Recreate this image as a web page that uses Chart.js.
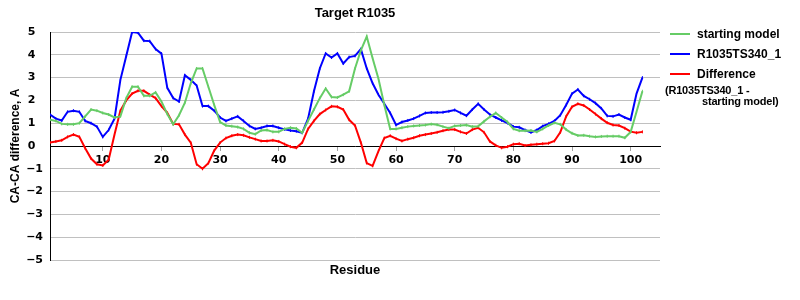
<!DOCTYPE html>
<html><head><meta charset="utf-8">
<script src="https://cdn.jsdelivr.net/npm/chart.js@4"></script>
<style>
html,body{margin:0;padding:0;background:#fff;}
#wrap{position:relative;width:800px;height:300px;}
canvas{display:block;}
#legend{position:absolute;left:670px;top:24px;font-family:"Liberation Sans",Arial,sans-serif;font-weight:bold;font-size:12px;color:#000;}
.item{position:relative;height:20px;display:flex;align-items:center;white-space:nowrap;}
.swatch{width:20px;height:2px;margin-right:7px;flex:none;}
.sub{position:absolute;left:665px;top:85px;font-family:"Liberation Sans",Arial,sans-serif;font-weight:bold;font-size:11px;line-height:11px;color:#000;white-space:nowrap;letter-spacing:-0.2px;}
.sub span{display:block;}
.sub span.l2{padding-left:37px;}
</style></head>
<body><div id="wrap"><canvas id="c" width="800" height="300"></canvas><div id="legend"></div><div class="sub" id="sub"></div></div>
<script>
const chartTitle = 'Target R1035';
const xTitle = 'Residue';
const yTitle = 'CA-CA difference, A';
const seriesNames = ['starting model', 'R1035TS340_1', 'Difference'];
const differenceNote = ['(R1035TS340_1 -', 'starting model)'];
const seriesColors = ['#66CC66', '#0000FF', '#FF0000'];
const xTicks = [10, 20, 30, 40, 50, 60, 70, 80, 90, 100];

const residues = [1,2,3,4,5,6,7,8,9,10,11,12,13,14,15,16,17,18,19,20,
21,22,23,24,25,26,27,28,29,30,31,32,33,34,35,36,37,38,39,40,
41,42,43,44,45,46,47,48,49,50,51,52,53,54,55,56,57,58,59,60,
61,62,63,64,65,66,67,68,69,70,71,72,73,74,75,76,77,78,79,80,
81,82,83,84,85,86,87,88,89,90,91,92,93,94,95,96,97,98,99,100,101,102];

const startingModel = [1.15,1.1,0.97,0.95,0.95,1.0,1.3,1.6,1.55,1.45,
1.38,1.25,1.3,2.1,2.6,2.6,2.2,2.2,2.35,1.95,
1.4,0.95,1.35,1.9,2.75,3.4,3.4,2.6,1.8,1.05,
0.9,0.87,0.83,0.75,0.58,0.52,0.68,0.7,0.62,0.62,
0.75,0.8,0.77,0.58,1.1,1.6,2.1,2.52,2.15,2.13,
2.25,2.4,3.4,4.2,4.8,3.85,2.95,1.8,0.75,0.75,
0.8,0.85,0.88,0.9,0.92,0.96,0.93,0.85,0.78,0.88,
0.9,0.92,0.85,0.87,1.08,1.28,1.45,1.25,1.05,0.75,
0.67,0.67,0.68,0.62,0.75,0.9,1.02,0.95,0.72,0.56,
0.46,0.47,0.43,0.4,0.42,0.43,0.43,0.43,0.36,0.62,1.5,2.4];

const modelTS340 = [1.38,1.2,1.12,1.5,1.55,1.5,1.1,1.0,0.85,0.4,
0.7,1.2,2.9,3.95,5.0,4.97,4.62,4.6,4.25,4.05,
2.55,2.1,1.95,3.1,2.9,2.65,1.75,1.75,1.55,1.25,
1.1,1.2,1.3,1.1,0.88,0.75,0.8,0.88,0.88,0.8,
0.73,0.68,0.65,0.58,1.2,2.4,3.4,4.06,3.88,4.06,
3.62,3.9,3.95,4.25,3.4,2.75,2.25,1.85,1.45,0.92,
1.05,1.12,1.2,1.32,1.45,1.47,1.47,1.48,1.52,1.58,
1.45,1.33,1.6,1.85,1.6,1.38,1.25,1.12,1.01,0.85,
0.82,0.7,0.6,0.7,0.87,0.97,1.1,1.35,1.8,2.3,
2.48,2.2,2.05,1.88,1.65,1.32,1.3,1.38,1.25,1.15,2.3,3.0];

const difference = [0.15,0.2,0.25,0.4,0.5,0.4,-0.1,-0.55,-0.8,-0.85,
-0.6,0.5,1.55,2.0,2.3,2.42,2.42,2.25,2.1,1.75,
1.45,0.97,0.95,0.5,0.15,-0.8,-1.0,-0.75,-0.2,0.15,
0.35,0.45,0.5,0.47,0.38,0.3,0.22,0.22,0.25,0.2,
0.08,-0.03,-0.08,0.15,0.75,1.1,1.4,1.58,1.74,1.72,
1.6,1.15,0.9,0.15,-0.75,-0.87,-0.22,0.35,0.45,0.32,
0.22,0.3,0.36,0.45,0.5,0.55,0.6,0.67,0.72,0.72,
0.62,0.55,0.72,0.8,0.6,0.2,0.03,-0.08,-0.03,0.08,
0.1,0.02,0.05,0.08,0.1,0.12,0.22,0.6,1.3,1.72,
1.85,1.78,1.6,1.4,1.2,1.02,0.92,0.9,0.78,0.63,0.58,0.62];

const seriesValues = [startingModel, modelTS340, difference];

const tickFont = {family: '"DejaVu Sans", Verdana, sans-serif', size: 11, weight: 'bold'};
const textFont = {family: '"Liberation Sans", Arial, sans-serif', weight: 'bold'};

function makeDataset(i) {
  return {
    label: seriesNames[i],
    data: residues.map((r, k) => ({x: r, y: seriesValues[i][k]})),
    borderColor: seriesColors[i],
    backgroundColor: seriesColors[i],
    borderWidth: 2,
    tension: 0,
    pointStyle: 'line',
    pointRotation: 90,
    pointRadius: 1.5,
    pointBorderWidth: 1,
    pointBorderColor: seriesColors[i],
    fill: false,
    xAxisID: 'x',
    yAxisID: 'y'
  };
}

new Chart(document.getElementById('c'), {
  type: 'line',
  data: {datasets: [makeDataset(0), makeDataset(1), makeDataset(2)]},
  options: {
    responsive: false,
    animation: false,
    events: [],
    layout: {padding: {right: 140, left: 0, top: 0, bottom: 0}},
    plugins: {
      legend: {display: false},
      tooltip: {enabled: false},
      title: {
        display: true, text: chartTitle, fullSize: false, color: '#000',
        font: Object.assign({size: 13}, textFont),
        padding: {top: 6, bottom: 10.4}
      }
    },
    scales: {
      x: {
        type: 'linear', min: 1, max: 105, position: 'bottom',
        ticks: {display: false},
        grid: {display: false, drawTicks: false},
        border: {display: false},
        title: {display: true, text: xTitle, color: '#000', font: Object.assign({size: 13}, textFont), padding: {top: 3, bottom: 21.4}}
      },
      x2: {
        type: 'linear', axis: 'x', min: 1, max: 105, position: {y: 0},
        afterBuildTicks: (s) => { s.ticks = xTicks.map(v => ({value: v})); },
        afterFit: (s) => { s.height = 0; },
        ticks: {font: tickFont, color: '#000', maxRotation: 0, autoSkip: false, padding: 4},
        grid: {drawOnChartArea: false, tickLength: 4, color: '#a0a0a0'},
        border: {color: '#000', width: 1}
      },
      y: {
        type: 'linear', min: -5, max: 5, position: 'left',
        afterFit: (s) => { s.width = 50; },
        ticks: {
          stepSize: 1, font: tickFont, color: '#000', padding: 7,
          callback: (v) => v < 0 ? '\u2212' + Math.abs(v) : v + '\u2007'
        },
        grid: {color: '#c0c0c0', drawTicks: false, lineWidth: 1},
        border: {color: '#000', width: 1},
        title: {display: true, text: yTitle, color: '#000', font: Object.assign({size: 12}, textFont), padding: {top: 8, bottom: 0}}
      }
    }
  }
});

const legend = document.getElementById('legend');
seriesNames.forEach((name, i) => {
  const item = document.createElement('div');
  item.className = 'item';
  const sw = document.createElement('span');
  sw.className = 'swatch';
  sw.style.background = seriesColors[i];
  const tx = document.createElement('span');
  tx.textContent = name;
  item.appendChild(sw);
  item.appendChild(tx);
  legend.appendChild(item);
});
const sub = document.getElementById('sub');
differenceNote.forEach((t, i) => {
  const s = document.createElement('span');
  s.textContent = t;
  if (i === 1) s.className = 'l2';
  sub.appendChild(s);
});
</script>
</body></html>
